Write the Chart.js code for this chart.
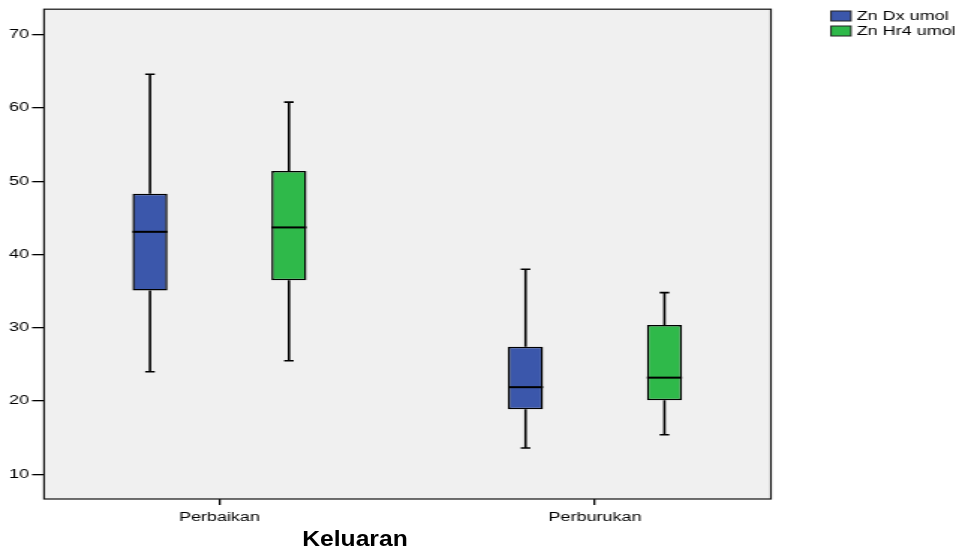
<!DOCTYPE html>
<html>
<head>
<meta charset="utf-8">
<script src="https://cdn.jsdelivr.net/npm/chart.js@4.4.1/dist/chart.umd.min.js"></script>
<style>
  html, body { margin: 0; padding: 0; background: #fff; }
  #wrap { position: relative; width: 956px; height: 552px; overflow: hidden; }
  /* the original chart is stretched sideways, so the canvas is too */
  #chart { position: absolute; left: 0; top: 0; transform-origin: 0 0; transform: scaleX(1.4984); }
  #xtitle { position: absolute; left: 355px; top: 528px; font: bold 22px "Liberation Sans", Arial, sans-serif; line-height: 22px; white-space: nowrap; transform: translateX(-50%) scaleX(1.12); }
</style>
</head>
<body>
<div id="wrap">
  <canvas id="chart" width="638" height="552"></canvas>
  <div id="xtitle">Keluaran</div>
</div>
<script>
const categories = ['Perbaikan', 'Perburukan'];
const seriesNames = ['Zn Dx umol', 'Zn Hr4 umol'];

const dxMin = [24.0, 13.6];
const dxQ1 = [35.1, 18.9];
const dxMedian = [43.1, 21.9];
const dxQ3 = [48.3, 27.4];
const dxMax = [64.6, 38.0];

const hrMin = [25.5, 15.4];
const hrQ1 = [36.5, 20.1];
const hrMedian = [43.7, 23.2];
const hrQ3 = [51.4, 30.4];
const hrMax = [60.8, 34.8];

const yTicks = [10, 20, 30, 40, 50, 60, 70];

const boxOffset = [-0.185, 0.185];
const colors = ['#3b57ab', '#2fb94a'];
const tickFont = { family: '"Liberation Sans", Arial, sans-serif', size: 12 };

function makeSeries(k, q1, q3, min, med, max) {
  return {
    label: seriesNames[k],
    data: categories.map((c, i) => ({ x: i + boxOffset[k], y: [q1[i], q3[i]] })),
    stats: { min: min, median: med, max: max },
    backgroundColor: colors[k],
    borderColor: '#000',
    borderWidth: 1.5,
    borderSkipped: false,
    inflateAmount: 0,
    grouped: false,
    barPercentage: 1,
    categoryPercentage: 1,
    maxBarThickness: 23.4
  };
}

const boxPlugin = {
  id: 'boxWhiskers',
  beforeDraw(chart) {
    const { ctx, chartArea: a } = chart;
    ctx.save();
    ctx.fillStyle = '#f0f0f0';
    ctx.fillRect(a.left, a.top, a.right - a.left, a.bottom - a.top);
    ctx.restore();
  },
  afterDatasetsDraw(chart) {
    const ctx = chart.ctx;
    const y = chart.scales.y;
    ctx.save();
    ctx.strokeStyle = '#000';
    chart.data.datasets.forEach((ds, d) => {
      chart.getDatasetMeta(d).data.forEach((bar, i) => {
        const x = bar.x, half = bar.width / 2;
        const yMin = y.getPixelForValue(ds.stats.min[i]);
        const yMax = y.getPixelForValue(ds.stats.max[i]);
        const yMed = y.getPixelForValue(ds.stats.median[i]);
        const yLow = y.getPixelForValue(ds.data[i].y[0]);
        const yHigh = y.getPixelForValue(ds.data[i].y[1]);
        ctx.lineWidth = 1.6;
        ctx.beginPath();
        ctx.moveTo(x, yHigh); ctx.lineTo(x, yMax);
        ctx.moveTo(x, yLow); ctx.lineTo(x, yMin);
        ctx.stroke();
        ctx.lineWidth = 1.6;
        ctx.beginPath();
        ctx.moveTo(x - 3.2, yMax); ctx.lineTo(x + 3.2, yMax);
        ctx.moveTo(x - 3.2, yMin); ctx.lineTo(x + 3.2, yMin);
        ctx.stroke();
        ctx.lineWidth = 2;
        ctx.beginPath();
        ctx.moveTo(x - half, yMed); ctx.lineTo(x + half, yMed);
        ctx.stroke();
      });
    });
    ctx.restore();
  },
  afterDraw(chart) {
    const { ctx, chartArea: a } = chart;
    ctx.save();
    ctx.strokeStyle = '#111';
    ctx.lineWidth = 1.2;
    ctx.strokeRect(a.left, a.top, a.right - a.left, a.bottom - a.top);
    // legend
    ctx.font = '12px "Liberation Sans", Arial, sans-serif';
    ctx.textBaseline = 'middle';
    chart.data.datasets.forEach((ds, k) => {
      const top = 11 + k * 15;
      ctx.fillStyle = ds.backgroundColor;
      ctx.fillRect(554.6, top, 13.3, 10);
      ctx.strokeStyle = '#222';
      ctx.lineWidth = 1;
      ctx.strokeRect(554.6, top, 13.3, 10);
      ctx.fillStyle = '#000';
      ctx.fillText(ds.label, 571.7, top + 5.5);
    });
    ctx.restore();
  }
};

new Chart(document.getElementById('chart'), {
  type: 'bar',
  data: {
    datasets: [
      makeSeries(0, dxQ1, dxQ3, dxMin, dxMedian, dxMax),
      makeSeries(1, hrQ1, hrQ3, hrMin, hrMedian, hrMax)
    ]
  },
  options: {
    responsive: false,
    animation: false,
    layout: { padding: { top: 8, left: 0, right: 123.5, bottom: 0 } },
    plugins: {
      legend: { display: false },
      tooltip: { enabled: false }
    },
    scales: {
      x: {
        type: 'linear',
        offset: false,
        min: -0.467,
        max: 1.4685,
        afterBuildTicks: s => { s.ticks = categories.map((c, i) => ({ value: i })); },
        afterFit: s => { s.height = 53; },
        grid: { offset: false, drawOnChartArea: false, drawTicks: true, tickLength: 6, color: '#000', lineWidth: 1.3 },
        border: { display: false },
        ticks: {
          callback: v => categories[v],
          padding: 5,
          maxRotation: 0,
          autoSkip: false,
          color: '#000',
          font: tickFont
        }
      },
      y: {
        type: 'linear',
        min: 6.64,
        max: 73.48,
        afterBuildTicks: s => { s.ticks = yTicks.map(v => ({ value: v })); },
        afterFit: s => { s.width = 29.4; },
        grid: { drawOnChartArea: false, drawTicks: true, tickLength: 8, color: '#000', lineWidth: 1.3 },
        border: { display: false },
        ticks: { padding: 2, autoSkip: false, color: '#000', font: tickFont }
      }
    }
  },
  plugins: [boxPlugin]
});
</script>
</body>
</html>
